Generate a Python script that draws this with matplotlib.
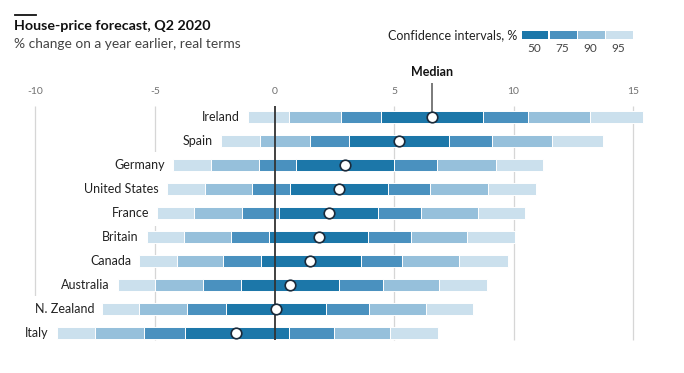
import matplotlib
matplotlib.use("Agg")
import matplotlib.pyplot as plt
import matplotlib.patches as patches
import numpy as np

plt.rcParams["font.family"] = ["Lato", "DejaVu Sans"]

# ── Data ─────────────────────────────────────────────────────────────────────
countries = ["Ireland", "Spain", "Germany", "United States", "France",
             "Britain", "Canada", "Australia", "N. Zealand", "Italy"]
lo95   = [-1.10, -2.25, -4.25, -4.50, -4.90, -5.35, -5.65, -6.55, -7.20, -9.10]
lo90   = [ 0.60, -0.60, -2.65, -2.90, -3.35, -3.80, -4.10, -5.00, -5.65, -7.50]
lo75   = [ 2.77,  1.50, -0.65, -0.95, -1.35, -1.80, -2.15, -3.00, -3.65, -5.45]
lo50   = [ 4.44,  3.10,  0.90,  0.65,  0.20, -0.25, -0.55, -1.40, -2.05, -3.75]
median = [ 6.60,  5.20,  2.95,  2.70,  2.30,  1.85,  1.50,  0.65,  0.05, -1.60]
hi50   = [ 8.74,  7.30,  5.00,  4.75,  4.35,  3.90,  3.60,  2.70,  2.15,  0.60]
hi75   = [10.60,  9.10,  6.80,  6.50,  6.15,  5.70,  5.35,  4.55,  3.95,  2.50]
hi90   = [13.20, 11.60,  9.25,  8.95,  8.50,  8.05,  7.70,  6.90,  6.35,  4.85]
hi95   = [15.40, 13.75, 11.25, 10.95, 10.50, 10.05,  9.75,  8.90,  8.30,  6.85]

ci_levels = ["50", "75", "90", "95"]
xticks = [-10, -5, 0, 5, 10, 15]

C50, C75, C90, C95 = "#1c77a9", "#4a91bf", "#96c0db", "#cbe0ed"

# ── Figure ───────────────────────────────────────────────────────────────────
W, H = 684, 373
fig = plt.figure(figsize=(W / 100, H / 100), dpi=100)
ax = fig.add_axes([0, 0, 1, 1])
ax.axis("off")

# pixel mapping: x=0 at 274.5px, 23.9 px/unit; row i at 117+24*i px
x0_px, ppu = 274.5, 23.9
ax.set_xlim(-x0_px / ppu, (W - x0_px) / ppu)
ax.set_ylim((H - 117) / 24, -117 / 24)

def ypx(p):
    return (p - 117) / 24

y = np.arange(len(countries))
bh = 0.54

# gridlines + tick labels
for t in xticks:
    if t == 0:
        continue
    ax.vlines(t, ypx(106), ypx(340), color="#d6d6d6", lw=0.9, zorder=1)
for t in xticks:
    ax.text(t, ypx(92), f"{t}", ha="center", va="center",
            fontsize=7.5, color="#707070")

# segments
segs = [(lo95, lo90, C95), (lo90, lo75, C90), (lo75, lo50, C75),
        (lo50, hi50, C50), (hi50, hi75, C75), (hi75, hi90, C90),
        (hi90, hi95, C95)]
for a, b, c in segs:
    a = np.array(a); b = np.array(b)
    ax.barh(y, b - a, left=a, height=bh, color=c,
            edgecolor="white", linewidth=0.7, zorder=2)

# zero line
ax.vlines(0, ypx(106), ypx(340), color="#333333", lw=1.3, zorder=3)

# median markers
ax.plot(median, y, "o", ms=7.6, mfc="white", mec="#1b2a3a", mew=1.2,
        zorder=5, ls="none")

# median callout
ax.vlines(median[0], ypx(83), 0, color="#7a7a7a", lw=1.4, zorder=4)
ax.text(median[0], ypx(72), "Median", ha="center", va="center",
        fontsize=9, fontweight="bold", color="#111111")

# country labels with white backing that hides gridlines
texts = []
for yi, name, lo in zip(y, countries, lo95):
    t = ax.annotate(name, (lo, yi), xytext=(-6, 0), textcoords="offset points",
                    ha="right", va="center", fontsize=9, color="#222222",
                    zorder=6)
    texts.append(t)
fig.canvas.draw()
r = fig.canvas.get_renderer()
inv = ax.transData.inverted()
for yi, t, lo in zip(y, texts, lo95):
    bb = t.get_window_extent(r)
    left = inv.transform((bb.x0 - 2, 0))[0]
    ax.add_patch(patches.Rectangle((left, yi - 0.55), lo - left, 1.1,
                                   facecolor="white", edgecolor="none",
                                   zorder=1.5))

# titles
fig.add_artist(plt.Line2D([15 / W, 36 / W], [1 - 15 / H, 1 - 15 / H],
                          color="#111111", lw=1.3))
fig.text(14 / W, 1 - 25.5 / H, "House-price forecast, Q2 2020", ha="left",
         va="center", fontsize=10.3, fontweight="bold", color="#111111")
fig.text(14 / W, 1 - 44 / H, "% change on a year earlier, real terms",
         ha="left", va="center", fontsize=9.9, color="#444444")

# legend
fig.text(517 / W, 1 - 35 / H, "Confidence intervals, %", ha="right",
         va="center", fontsize=9, color="#222222")
lx, lw_, gap = 521.5, 26.8, 1.4
for k, (lab, c) in enumerate(zip(ci_levels, [C50, C75, C90, C95])):
    x = lx + k * (lw_ + gap)
    fig.add_artist(patches.Rectangle((x / W, 1 - 39 / H), lw_ / W, 7.5 / H,
                                     facecolor=c, edgecolor="none",
                                     transform=fig.transFigure))
    fig.text((x + lw_ / 2 - 1) / W, 1 - 48.5 / H, lab, ha="center",
             va="center", fontsize=8.5, color="#444444")

fig.savefig("out.png", dpi=100)
